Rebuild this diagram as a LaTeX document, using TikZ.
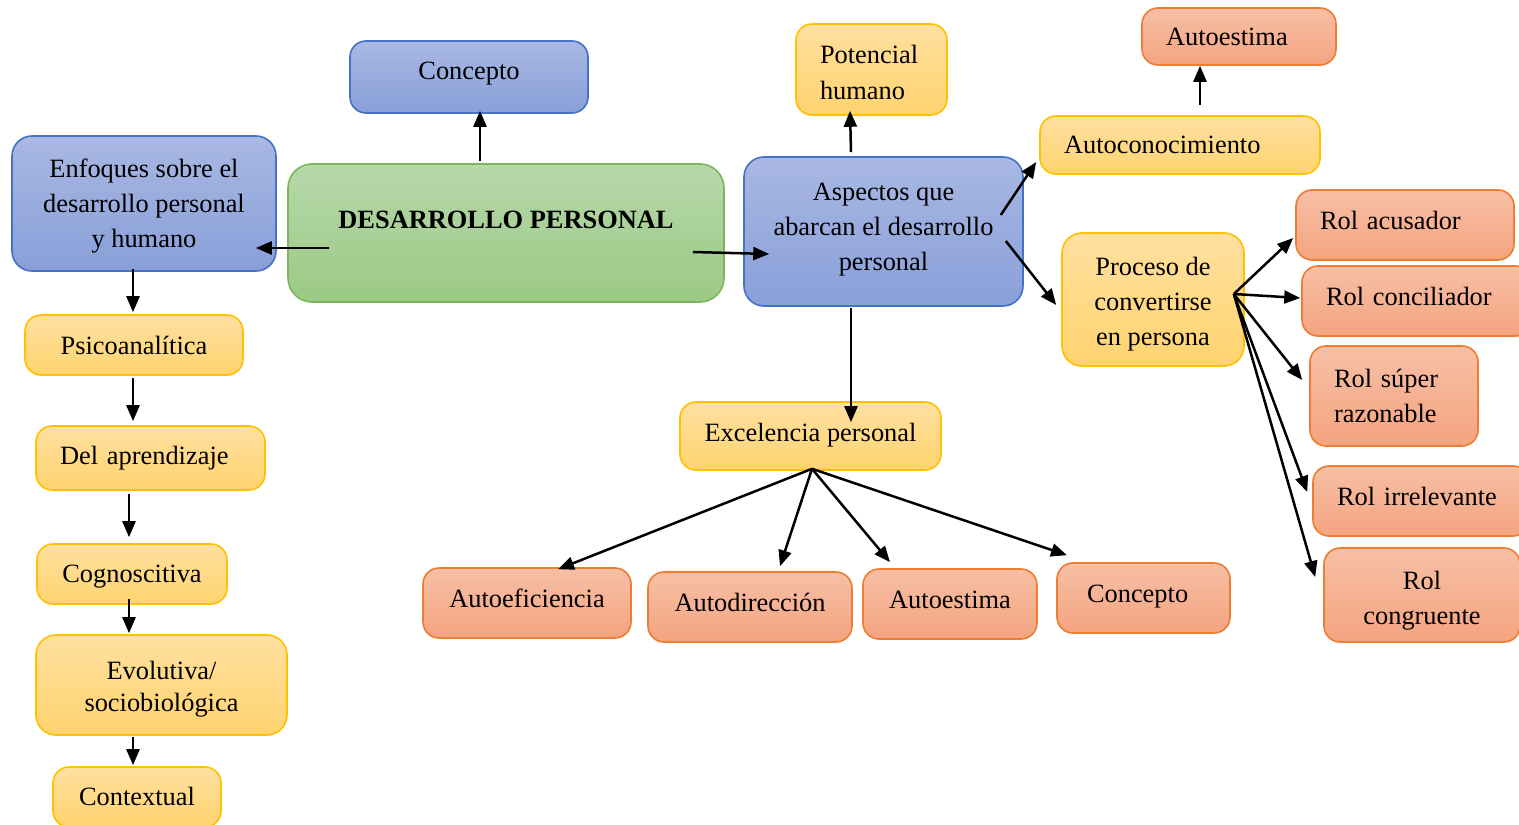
\documentclass[tikz,border=0pt]{standalone}
\usepackage{fontspec}
\setmainfont{Liberation Serif}
\usetikzlibrary{arrows.meta,positioning,calc}
\definecolor{bluetop}{HTML}{A9B8E3}
\definecolor{bluebot}{HTML}{889FD8}
\definecolor{bluebd}{HTML}{4472C4}
\definecolor{grntop}{HTML}{B7D8AA}
\definecolor{grnbot}{HTML}{9BC985}
\definecolor{grnbd}{HTML}{7DB55A}
\definecolor{ylwtop}{HTML}{FFE0A0}
\definecolor{ylwbot}{HTML}{FFD36E}
\definecolor{ylwbd}{HTML}{FFC000}
\definecolor{orgtop}{HTML}{F7BFA6}
\definecolor{orgbot}{HTML}{F4A47F}
\definecolor{orgbd}{HTML}{ED7D31}
\tikzset{
  box/.style  = { draw, rounded corners=8pt, line width=0.8pt, align=center, inner sep=2pt,
    font=\fontsize{13.2}{17.5}\selectfont, text height=9pt, text depth=0pt },
  sz/.style 2 args = { minimum width=#1pt, minimum height=#2pt },
  td/.style   = { text depth=#1pt },% moves the text up
  th/.style   = { text height=#1pt },% moves the text down
  bloc/.style = { box, draw=bluebd, top color=bluetop, bottom color=bluebot },
  gloc/.style = { box, draw=grnbd, top color=grntop, bottom color=grnbot },
  yloc/.style = { box, draw=ylwbd, top color=ylwtop, bottom color=ylwbot },
  oloc/.style = { box, draw=orgbd, top color=orgtop, bottom color=orgbot },
  lft/.style  = { align=left, inner xsep=12pt, text width=#1pt },% text pushed to the left
  arr/.style  = { -{Triangle[length=8pt,width=6.5pt]}, line width=1.25pt }
}
\begin{document}
\begin{tikzpicture}[x=0.5pt,y=-0.5pt]
      \useasboundingbox (0,0) rectangle (1519,824);
      % centre and left column
      \node[gloc, sz={218}{69}, rounded corners=12pt, td=14] (dp) at (506,233) {\textbf{DESARROLLO PERSONAL}};
      \node[bloc, sz={119}{36}, td=6] (concA) at (469,77) {Concepto};
      \node[bloc, sz={132}{67.5}, rounded corners=10pt, th=44] (enf) at (144,203.5) {Enfoques sobre el\\desarrollo personal\\y humano};
      \node[yloc, sz={109}{30}] (psi) at (134,345) {Psicoanalítica};
      \node[yloc, sz={114.5}{32}, lft=90.5, td=3] (apr) at (150.5,458) {Del aprendizaje};
      \node[yloc, sz={95}{30}, td=1] (cog) at (132,574) {Cognoscitiva};
      \node[yloc, sz={125.5}{50}, rounded corners=10pt, th=26, font=\fontsize{13.2}{16}\selectfont] (evo) at (161.5,685) {Evolutiva/\\sociobiológica};
      \node[yloc, sz={84}{30}, td=1] (ctx) at (137,797) {Contextual};
      % aspectos and its branches
      \node[bloc, sz={139.5}{74.5}, rounded corners=10pt, th=44, td=5] (asp) at (883.5,231.5) {Aspectos que\\abarcan el desarrollo\\personal};
      \node[yloc, sz={75.5}{45.5}, lft=51.5, td=14.5] (pot) at (871.5,69.5) {Potencial\\humano};
      \node[yloc, sz={140}{29}, lft=116] (acon) at (1180,145) {Autoconocimiento};
      \node[oloc, sz={97}{28.5}, lft=73] (aeA) at (1239,36.5) {Autoestima};
      \node[yloc, sz={91}{66.5}, rounded corners=10pt, th=45.5] (proc) at (1153,299.5) {Proceso de\\convertirse\\en persona};
      \node[oloc, sz={109}{35}, lft=85, td=5] (racu) at (1405,225) {Rol acusador};
      \node[oloc, sz={115}{35}, lft=91, td=5] (rcon) at (1417,301) {Rol conciliador};
      \node[oloc, sz={84}{50}, lft=60, td=18] (rsup) at (1394,396) {Rol súper\\razonable};
      \node[oloc, sz={108}{35}, lft=84, td=5] (rirr) at (1421,501) {Rol irrelevante};
      \node[oloc, sz={98}{47}, th=29] (rcong) at (1422,595) {Rol\\congruente};
      \node[yloc, sz={130.5}{34}, td=4] (exc) at (810.5,436) {Excelencia personal};
      \node[oloc, sz={104}{35}, td=5] (aef) at (527,603) {Autoeficiencia};
      \node[oloc, sz={102}{35}, td=5] (adir) at (750,607) {Autodirección};
      \node[oloc, sz={87}{35}, td=5] (aeB) at (950,604) {Autoestima};
      \node[oloc, sz={86.5}{35}, td=5, lft=56.5, inner xsep=15pt] (concB) at (1143.5,598) {Concepto};
      \coordinate (excf) at ($(exc.south)+(1.5,-2)$);
      \coordinate (procf) at ($(proc.east)+(-11,-5.5)$);
      % arrows
      \path[arr] ($(dp.north)+(-26,-2)$) edge ($(concA.south)+(11,-3)$)
        ($(dp.west)+(42,15)$) edge ($(enf.east)+(-21,44.5)$)
        ($(dp.east)+(-32,19)$) edge ($(asp.west)+(26,22.5)$);
      \path[arr] ($(asp.north)+(-32.5,-4)$) edge ($(pot.south)+(-21.5,-5)$)
        ($(asp.east)+(-23,-16.5)$) edge ($(acon.west)+(-3,17)$)
        ($(asp.east)+(-18,9.5)$) edge ($(proc.west)+(-5,5.5)$)
        ($(acon.north)+(20,-10)$) edge ($(aeA.south)+(-39,0)$)
        ($(asp.south)+(-32.5,1)$) edge ($(exc.north)+(40.5,21)$);
      \path[arr] (excf) edge ($(aef.north)+(31,2)$)
        (excf) edge ($(adir.north)+(30,-5)$)
        (excf) edge ($(aeB.north)+(-60,-6)$)
        (excf) edge ($(concB.north)+(-76.5,-7)$);
      \path[arr] (procf) edge ($(racu.west)+(-2,13)$)
        (procf) edge ($(rcon.west)+(-1,-3)$)
        (procf) edge ($(rsup.west)+(-7,-16)$)
        (procf) edge ($(rirr.west)+(-5,-9)$)
        (procf) edge ($(rcong.west)+(-8,-18)$);
      \path[arr] ($(enf.south)+(-11,-3)$) edge ($(psi.north)+(-1,-2)$)
        ($(psi.south)+(-1,2)$) edge ($(apr.north)+(-17.5,-4)$)
        ($(apr.south)+(-21.5,3)$) edge ($(cog.north)+(-3,-6)$)
        ($(cog.south)+(-3,-6)$) edge ($(evo.north)+(-32.5,-1)$)
        ($(evo.south)+(-28.5,1)$) edge ($(ctx.north)+(-4,-1)$);
\end{tikzpicture}
\end{document}
